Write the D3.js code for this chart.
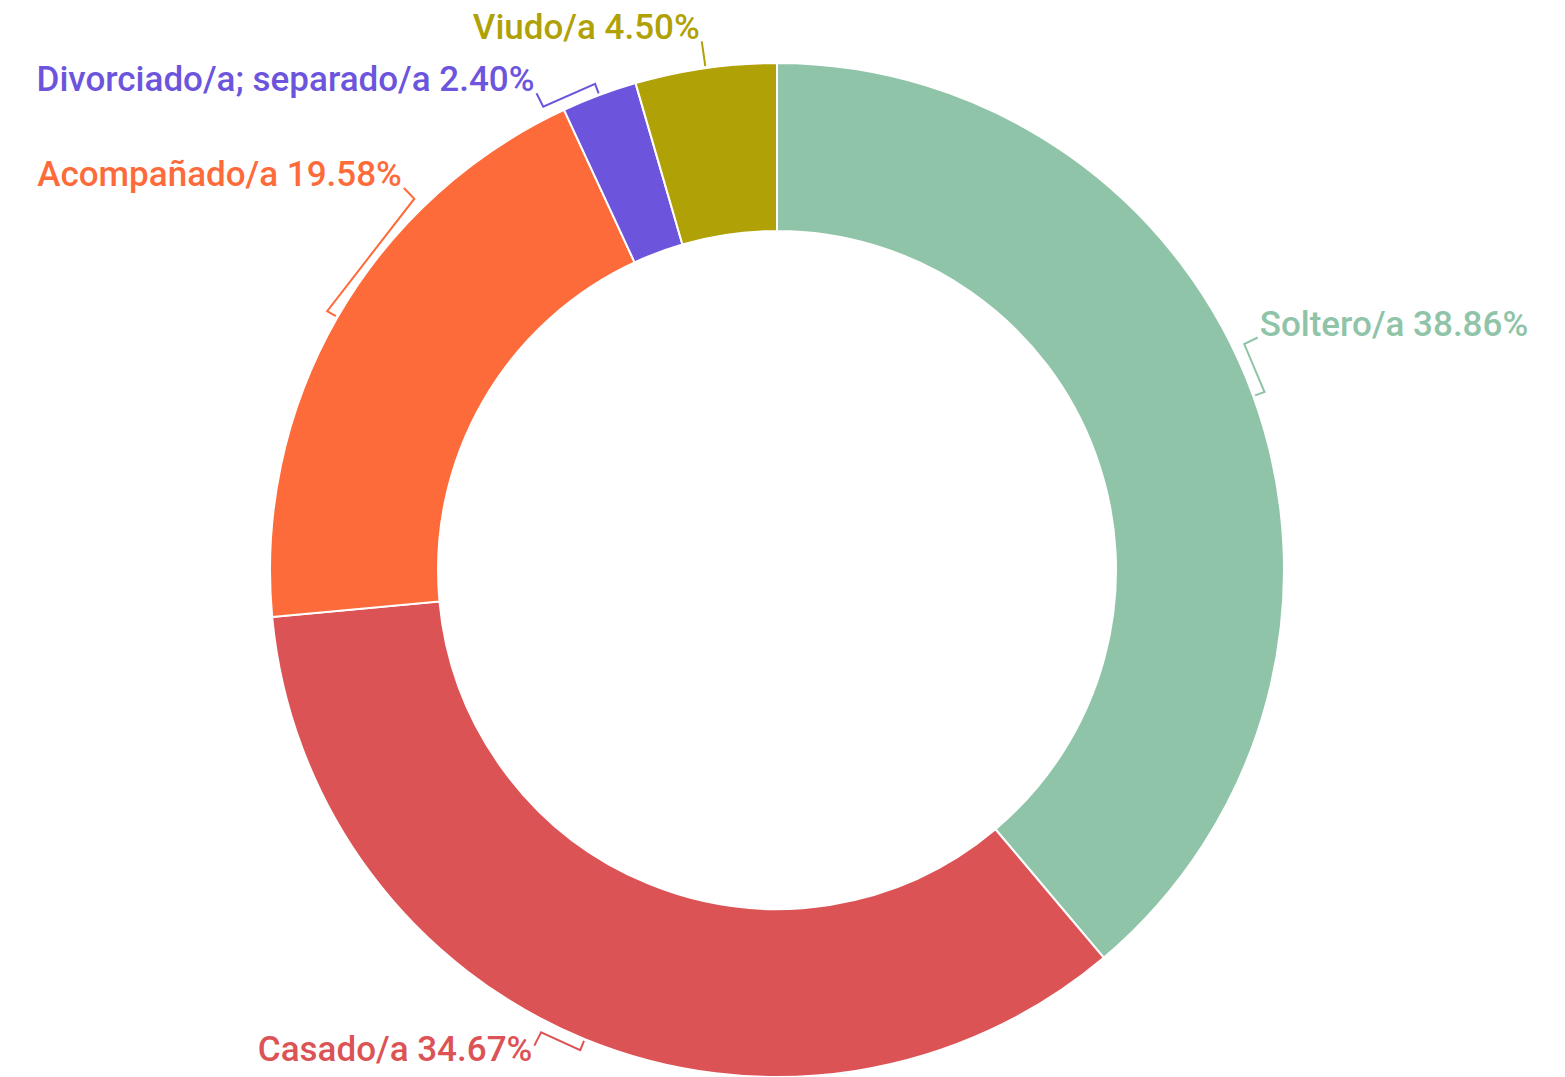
<!DOCTYPE html>
<html>
<head>
<meta charset="utf-8">
<script src="https://cdn.jsdelivr.net/npm/d3@7"></script>
<style>
  body { margin: 0; background: #fff; }
  svg { display: block; }
  .label { font-family: Roboto, sans-serif; font-weight: 500; }
</style>
</head>
<body>
<svg id="chart"></svg>
<script>
const categories = ['Soltero/a', 'Casado/a', 'Acompañado/a', 'Divorciado/a; separado/a', 'Viudo/a'];
const shares = [38.86, 34.67, 19.58, 2.40, 4.50];
const colours = ['#8fc4a8', '#dc5356', '#fe6b3a', '#6c55dc', '#b0a106'];

const width = 1565;
const height = 1077;
const cx = 777;
const cy = 570;
const outerR = 507;
const innerR = 339;
const fontSize = 35;

const svg = d3.select('#chart')
  .attr('width', width)
  .attr('height', height);

const g = svg.append('g').attr('transform', `translate(${cx},${cy})`);

const data = categories.map((name, i) => ({ name, value: shares[i], colour: colours[i] }));

const pie = d3.pie().sort(null).value((d) => d.value);
const arcs = pie(data);

const arc = d3.arc().innerRadius(innerR).outerRadius(outerR);

g.selectAll('path.slice')
  .data(arcs)
  .enter()
  .append('path')
  .attr('class', 'slice')
  .attr('d', arc)
  .attr('fill', (d) => d.data.colour)
  .attr('stroke', '#fff')
  .style('stroke-width', '2px');

// label layout: radial anchors, pushed along the ring until they fit
const tickR = outerR + 2;
const bracketR = outerR + 12;
const anchorR = outerR + 27;
const gap = 2;
const margin = 36;
const edgePad = 6;
const labelPad = 10;

const polar = (angle, r) => [Math.sin(angle) * r, -Math.cos(angle) * r];

// measure every label once
const probe = svg.append('text').attr('class', 'label').style('font-size', `${fontSize}px`);
arcs.forEach((d) => {
  probe.text(`${d.data.name} ${d.data.value.toFixed(2)}%`);
  const bb = probe.node().getBBox();
  d.textW = bb.width;
  d.ascent = -bb.y;
  d.descent = bb.height + bb.y;
});
probe.remove();

function place(d, angle) {
  const [ax, ay] = polar(angle, anchorR);
  const right = Math.sin(angle) >= 0;
  const upper = Math.cos(angle) >= 0;
  const x = cx + ax + (right ? gap : -gap);
  const baseline = upper ? cy + ay - gap : cy + ay + fontSize * 0.45;
  const x0 = right ? x : x - d.textW;
  return {
    angle, x, baseline, right, anchor: right ? 'start' : 'end',
    box: { x0, x1: x0 + d.textW, y0: baseline - d.ascent, y1: baseline + d.descent },
  };
}

function fits(p, side, placed) {
  const b = p.box;
  if (p.right !== side) return false;
  if (b.x0 < margin || b.x1 > width - margin || b.y0 < edgePad || b.y1 > height - edgePad) return false;
  return placed.every((q) => {
    const o = q.box;
    return b.x1 + labelPad < o.x0 || o.x1 + labelPad < b.x0
      || b.y1 + labelPad < o.y0 || o.y1 + labelPad < b.y0;
  });
}

const placed = [];
const byValue = arcs.slice().sort((a, b) => b.value - a.value);
byValue.forEach((d) => {
  const mid = (d.startAngle + d.endAngle) / 2;
  const side = Math.sin(mid) >= 0;
  const step = Math.PI / 720;
  let best = place(d, mid);
  for (let k = 0; k < 360; k += 1) {
    const pos = place(d, mid + k * step);
    if (fits(pos, side, placed)) { best = pos; break; }
    const neg = place(d, mid - k * step);
    if (fits(neg, side, placed)) { best = neg; break; }
  }
  d.label = best;
  d.mid = mid;
  placed.push(best);
});

const line = d3.line();

g.selectAll('path.leader')
  .data(arcs)
  .enter()
  .append('path')
  .attr('class', 'leader')
  .attr('d', (d) => line([
    polar(d.mid, tickR),
    polar(d.mid, bracketR),
    polar(d.label.angle, bracketR),
    polar(d.label.angle, anchorR),
  ]))
  .attr('fill', 'none')
  .attr('stroke', (d) => d.data.colour)
  .attr('stroke-width', 2)
  .attr('stroke-linejoin', 'miter');

svg.selectAll('text.label')
  .data(arcs)
  .enter()
  .append('text')
  .attr('class', 'label')
  .attr('x', (d) => d.label.x)
  .attr('y', (d) => d.label.baseline)
  .attr('text-anchor', (d) => d.label.anchor)
  .style('font-size', `${fontSize}px`)
  .attr('fill', (d) => d.data.colour)
  .text((d) => `${d.data.name} ${d.data.value.toFixed(2)}%`);
</script>
</body>
</html>
